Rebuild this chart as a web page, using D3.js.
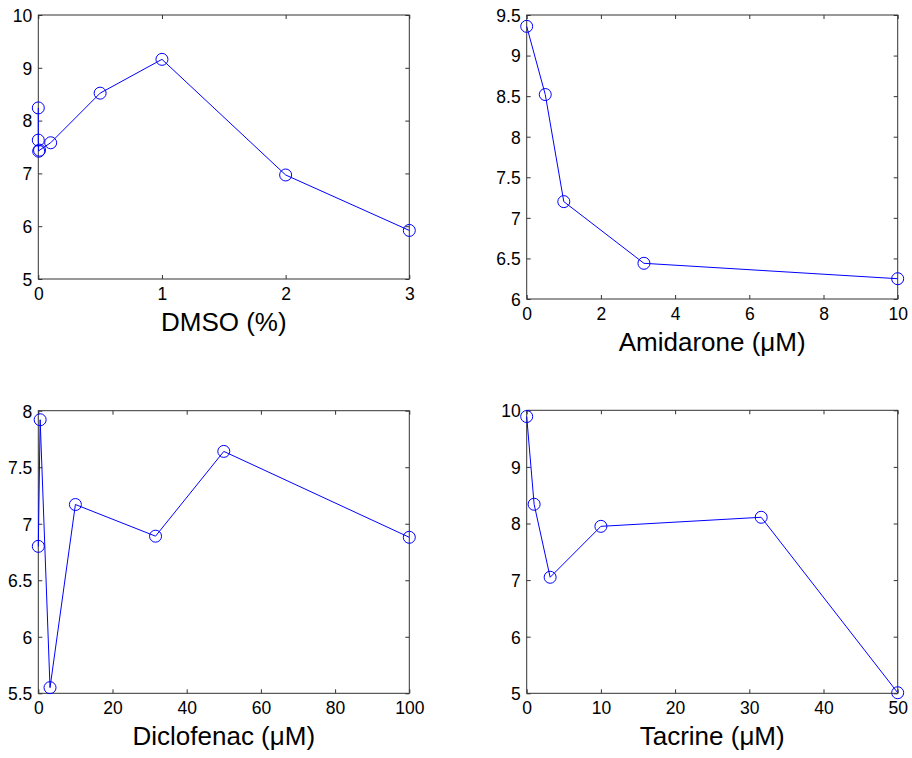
<!DOCTYPE html>
<html><head><meta charset="utf-8">
<script src="https://cdn.jsdelivr.net/npm/d3@7"></script>
<style>body{margin:0;background:#fff}svg{display:block}text{font-family:"Liberation Sans",Arial,sans-serif;fill:#000}</style>
</head><body>
<script>
// Panel data
const dmsoX = [0, 0, 0.003, 0.01, 0.1, 0.5, 1, 2, 3];
const dmsoY = [8.24, 7.63, 7.42, 7.44, 7.58, 8.52, 9.16, 6.97, 5.92];
const dmsoXTicks = [0, 1, 2, 3];
const dmsoYTicks = [5, 6, 7, 8, 9, 10];

const amiX = [0, 0.5, 1, 3.16, 10];
const amiY = [9.36, 8.52, 7.20, 6.44, 6.25];
const amiXTicks = [0, 2, 4, 6, 8, 10];
const amiYTicks = [6, 6.5, 7, 7.5, 8, 8.5, 9, 9.5];

const dicX = [0, 0.5, 3.16, 10, 31.6, 50, 100];
const dicY = [6.80, 7.92, 5.55, 7.17, 6.89, 7.64, 6.88];
const dicXTicks = [0, 20, 40, 60, 80, 100];
const dicYTicks = [5.5, 6, 6.5, 7, 7.5, 8];

const tacX = [0, 1, 3.16, 10, 31.6, 50];
const tacY = [9.89, 8.34, 7.05, 7.95, 8.11, 5.01];
const tacXTicks = [0, 10, 20, 30, 40, 50];
const tacYTicks = [5, 6, 7, 8, 9, 10];

const panels = [
  {x: dmsoX, y: dmsoY, xt: dmsoXTicks, yt: dmsoYTicks, xd: [0, 3], yd: [5, 10], label: "DMSO (%)",
   box: [38.3, 409.3, 15, 279]},
  {x: amiX, y: amiY, xt: amiXTicks, yt: amiYTicks, xd: [0, 10], yd: [6, 9.5], label: "Amidarone (μM)",
   box: [526.7, 897.7, 15, 299]},
  {x: dicX, y: dicY, xt: dicXTicks, yt: dicYTicks, xd: [0, 100], yd: [5.5, 8], label: "Diclofenac (μM)",
   box: [38.3, 409.3, 410.7, 693.3]},
  {x: tacX, y: tacY, xt: tacXTicks, yt: tacYTicks, xd: [0, 50], yd: [5, 10], label: "Tacrine (μM)",
   box: [526.7, 897.7, 410.3, 693.3]}
];

const svg = d3.select("body").append("svg").attr("width", 912).attr("height", 758);
const axisColor = "#333333";
const tickLen = 4;

panels.forEach(p => {
  const [L, R, T, B] = p.box;
  const xs = d3.scaleLinear().domain(p.xd).range([L, R]);
  const ys = d3.scaleLinear().domain(p.yd).range([B, T]);
  const g = svg.append("g");

  g.append("rect").attr("x", L).attr("y", T).attr("width", R - L).attr("height", B - T)
    .attr("fill", "none").attr("stroke", axisColor).attr("stroke-width", 1);

  const fmt = d => String(d);
  const bottom = g.append("g").attr("transform", `translate(0,${B})`)
    .call(d3.axisBottom(xs).tickValues(p.xt).tickFormat(fmt).tickSizeInner(-tickLen).tickSizeOuter(0).tickPadding(0));
  bottom.attr("font-size", 17.5).attr("font-family", null);
  bottom.select(".domain").remove();
  bottom.selectAll("line").attr("stroke", axisColor);
  bottom.selectAll("text").style("font-size", "17.5px").attr("y", 21).attr("dy", null);

  const top = g.append("g").attr("transform", `translate(0,${T})`)
    .call(d3.axisTop(xs).tickValues(p.xt).tickFormat("").tickSizeInner(-tickLen).tickSizeOuter(0));
  top.select(".domain").remove();
  top.selectAll("line").attr("stroke", axisColor);

  const left = g.append("g").attr("transform", `translate(${L},0)`)
    .call(d3.axisLeft(ys).tickValues(p.yt).tickFormat(fmt).tickSizeInner(-tickLen).tickSizeOuter(0).tickPadding(0));
  left.attr("font-size", 17.5).attr("font-family", null);
  left.select(".domain").remove();
  left.selectAll("line").attr("stroke", axisColor);
  left.selectAll("text").style("font-size", "17.5px").attr("x", -6).attr("dy", "0.36em");

  const right = g.append("g").attr("transform", `translate(${R},0)`)
    .call(d3.axisRight(ys).tickValues(p.yt).tickFormat("").tickSizeInner(-tickLen).tickSizeOuter(0));
  right.select(".domain").remove();
  right.selectAll("line").attr("stroke", axisColor);

  g.append("text").attr("x", (L + R) / 2).attr("y", B + 52).attr("text-anchor", "middle")
    .style("font-size", "26px").text(p.label);

  const pts = p.x.map((v, i) => [v, p.y[i]]);
  g.append("path").datum(pts)
    .attr("d", d3.line().x(d => xs(d[0])).y(d => ys(d[1])))
    .attr("fill", "none").attr("stroke", "#0000ff").attr("stroke-width", 1);
  g.selectAll("circle.m").data(pts).enter().append("circle")
    .attr("cx", d => xs(d[0])).attr("cy", d => ys(d[1])).attr("r", 6)
    .attr("fill", "none").attr("stroke", "#0000ff").attr("stroke-width", 1);
});
</script>
</body></html>
